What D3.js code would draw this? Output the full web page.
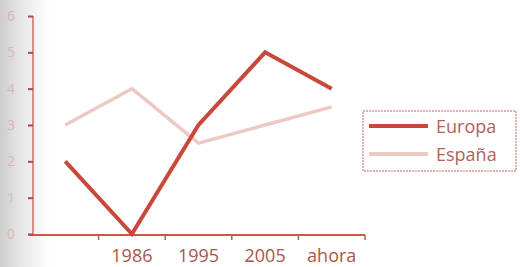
<!DOCTYPE html>
<html>
<head>
<meta charset="utf-8">
<script src="https://cdn.jsdelivr.net/npm/d3@7"></script>
<style>
  body { margin: 0; background: #fff; }
  svg { display: block; }
</style>
</head>
<body>
<svg width="520" height="267"></svg>
<script>
// categories (first one has no label)
const categories = ["", "1986", "1995", "2005", "ahora"];
const europa = [2, 0, 3, 5, 4];
const espana = [3, 4, 2.5, 3, 3.5];
const yTicks = [0, 1, 2, 3, 4, 5, 6];
const seriesNames = ["Europa", "España"];

const svg = d3.select("svg");
const W = 520, H = 267;

// scanned paper shadow on the left
const defs = svg.append("defs");
const grad = defs.append("linearGradient").attr("id", "shade");
grad.append("stop").attr("offset", "0%").attr("stop-color", "#cdcdcd");
grad.append("stop").attr("offset", "40%").attr("stop-color", "#e6e6e6");
grad.append("stop").attr("offset", "100%").attr("stop-color", "#ffffff");
svg.append("rect").attr("width", W).attr("height", H).attr("fill", "#fff");
svg.append("rect").attr("width", 50).attr("height", H).attr("fill", "url(#shade)");

const axisCol = "#c4594f";
const font = "'Open Sans', Lato, sans-serif";
const x = d3.scaleBand().domain(categories).range([32, 365]);
const y = d3.scaleLinear().domain([0, 6]).range([234, 16]);

// x axis
const gx = svg.append("g").attr("transform", "translate(0,235)")
  .call(d3.axisBottom(x).tickSize(0).tickPadding(14));
gx.select(".domain").attr("stroke", axisCol).attr("stroke-width", 2)
  .attr("d", "M29,0H" + x.range()[1]);
gx.selectAll("text")
  .attr("fill", "#a9554d")
  .style("font-family", font)
  .style("font-size", "18px");
// tick marks on band boundaries
const bounds = categories.slice(1).map(c => x(c)).concat([x.range()[1]]);
gx.selectAll(".bnd").data(bounds).enter().append("line")
  .attr("x1", d => d).attr("x2", d => d)
  .attr("y1", 0).attr("y2", 5)
  .attr("stroke", axisCol).attr("stroke-width", 1.5);

// y axis
const gy = svg.append("g").attr("transform", "translate(33,0)")
  .call(d3.axisLeft(y).tickValues(yTicks).tickSize(5).tickPadding(13).tickFormat(d3.format("d")));
gy.select(".domain").attr("stroke", axisCol).attr("stroke-width", 1.3)
  .attr("d", "M0," + y(6) + "V" + (y(0) + 1));
gy.selectAll(".tick line").attr("stroke", "#b0473f").attr("stroke-width", 2);
gy.selectAll("text")
  .attr("fill", "#d9b7b2")
  .style("font-family", font)
  .style("font-size", "14px");

const line = d3.line()
  .x((d, i) => x(categories[i]) + x.bandwidth() / 2)
  .y(d => y(d));

svg.append("path").datum(espana).attr("d", line)
  .attr("fill", "none").attr("stroke", "#ecc9c2").attr("stroke-width", 3.5)
  .attr("stroke-linejoin", "round");
svg.append("path").datum(europa).attr("d", line)
  .attr("fill", "none").attr("stroke", "#c9473b").attr("stroke-width", 4)
  .attr("stroke-linejoin", "miter");

// legend
const lg = svg.append("g");
lg.append("rect").attr("x", 363).attr("y", 111).attr("width", 153).attr("height", 60)
  .attr("fill", "#fff").attr("stroke", "#c4655c").attr("stroke-width", 1)
  .attr("stroke-dasharray", "2,1");
const legCols = ["#c9473b", "#ecc9c2"];
seriesNames.forEach((n, i) => {
  const yy = 126 + i * 28;
  lg.append("line").attr("x1", 369).attr("x2", 428).attr("y1", yy).attr("y2", yy)
    .attr("stroke", legCols[i]).attr("stroke-width", 4);
  lg.append("text").attr("x", 436).attr("y", yy + 7).text(n)
    .attr("fill", "#b2625b")
    .style("font-family", font)
    .style("font-size", "18px");
});
</script>
</body>
</html>
